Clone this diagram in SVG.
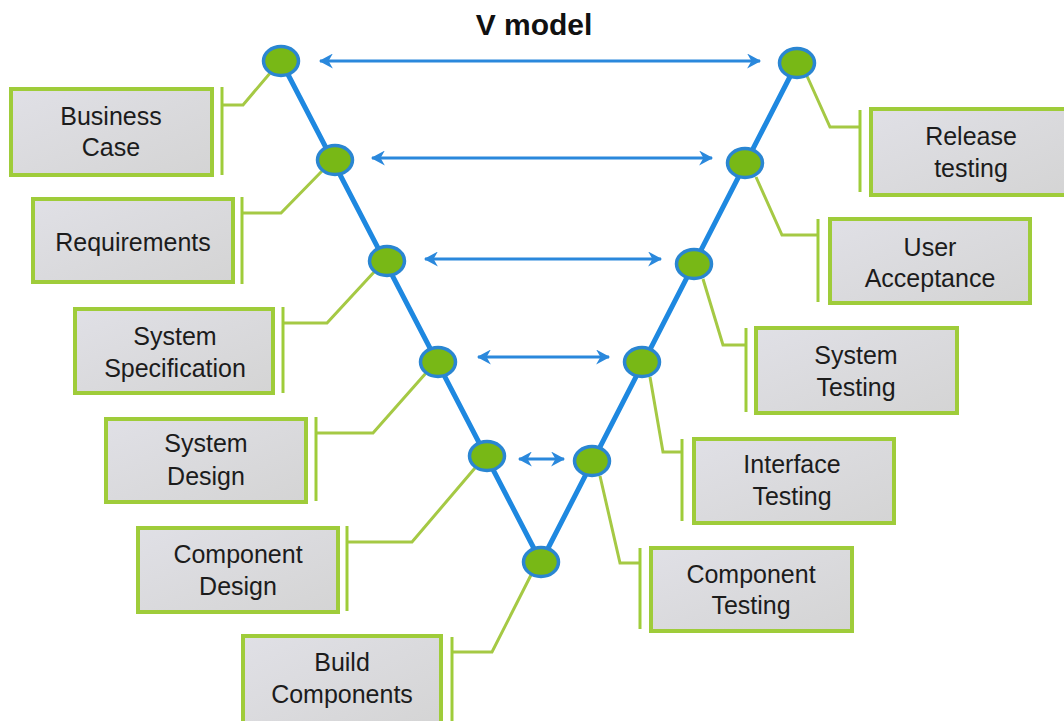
<svg xmlns="http://www.w3.org/2000/svg" width="1064" height="721" viewBox="0 0 1064 721">
  <defs>
    <marker id="head" viewBox="0 0 14 14" refX="12" refY="7" markerWidth="15" markerHeight="15" markerUnits="userSpaceOnUse" orient="auto-start-reverse">
      <path d="M0,0 L13,7 L0,14 L4,7 Z" fill="#2a88dc"/>
    </marker>
    <linearGradient id="boxfill" x1="0" y1="0" x2="1" y2="1">
      <stop offset="0" stop-color="#e0e0e6"/>
      <stop offset="1" stop-color="#d4d4d4"/>
    </linearGradient>
  </defs>
  <style>
    .box { fill: url(#boxfill); stroke: #9fcc3a; stroke-width: 4; }
    .bracket { fill: none; stroke: #9fcc3a; stroke-width: 3; }
    .lead { fill: none; stroke: #a5c944; stroke-width: 3; stroke-linejoin: miter; }
    .vee { fill: none; stroke: #1e88e0; stroke-width: 5; stroke-linejoin: round; }
    .span { stroke: #2a88dc; stroke-width: 3; marker-start: url(#head); marker-end: url(#head); }
    .node { fill: #78b816; stroke: #2a86d2; stroke-width: 3.5; }
    .lbl { font-family: "Liberation Sans", Arial, sans-serif; font-size: 25px; fill: #1c1c1c; text-anchor: middle; }
    .title { font-family: "Liberation Sans", Arial, sans-serif; font-size: 30px; font-weight: bold; fill: #111; text-anchor: middle; }
  </style>
  <rect width="1064" height="721" fill="#ffffff"/>

  <text class="title" x="534" y="35">V model</text>

  <!-- connectors: V line, leader lines, correspondence arrows -->
  <g id="connectors">
    <polyline class="vee" points="281,61 541,562 797,63"/>
    <!-- left leaders -->
    <polyline class="lead" points="222,105 243,105 271,72"/>
    <polyline class="lead" points="242,213 281,213 323,170"/>
    <polyline class="lead" points="283,323 327,323 375,271"/>
    <polyline class="lead" points="316,433 373,433 426,373"/>
    <polyline class="lead" points="347,542 412,542 475,468"/>
    <polyline class="lead" points="452,652 492,652 531,575"/>
    <!-- right leaders -->
    <polyline class="lead" points="860,127 830,127 807,76"/>
    <polyline class="lead" points="818,235 782,235 756,177"/>
    <polyline class="lead" points="746,345 723,345 703,279"/>
    <polyline class="lead" points="682,452 663,452 650,377"/>
    <polyline class="lead" points="640,563 620,563 600,476"/>
    <!-- left/right correspondence -->
    <line class="span" x1="320" y1="61" x2="760" y2="61"/>
    <line class="span" x1="372" y1="158" x2="712" y2="158"/>
    <line class="span" x1="425" y1="259" x2="661" y2="259"/>
    <line class="span" x1="478" y1="357" x2="609" y2="357"/>
    <line class="span" x1="519" y1="459" x2="564" y2="459"/>
  </g>

  <!-- V nodes -->
  <g id="n-l1"><ellipse class="node" cx="281" cy="61" rx="17.5" ry="14.5"/></g>
  <g id="n-l2"><ellipse class="node" cx="335" cy="160" rx="17.5" ry="14.5"/></g>
  <g id="n-l3"><ellipse class="node" cx="387" cy="261" rx="17.5" ry="14.5"/></g>
  <g id="n-l4"><ellipse class="node" cx="438" cy="362" rx="17.5" ry="14.5"/></g>
  <g id="n-l5"><ellipse class="node" cx="487" cy="456" rx="17.5" ry="14.5"/></g>
  <g id="n-bottom"><ellipse class="node" cx="541" cy="562" rx="17.5" ry="14.5"/></g>
  <g id="n-r5"><ellipse class="node" cx="592" cy="461" rx="17.5" ry="14.5"/></g>
  <g id="n-r4"><ellipse class="node" cx="642" cy="362" rx="17.5" ry="14.5"/></g>
  <g id="n-r3"><ellipse class="node" cx="694" cy="264" rx="17.5" ry="14.5"/></g>
  <g id="n-r2"><ellipse class="node" cx="745" cy="163" rx="17.5" ry="14.5"/></g>
  <g id="n-r1"><ellipse class="node" cx="797" cy="63" rx="17.5" ry="14.5"/></g>

  <!-- left-side boxes -->
  <g id="business-case">
    <rect class="box" x="11" y="89" width="201" height="86"/>
    <line class="bracket" x1="222" y1="87" x2="222" y2="175"/>
    <text class="lbl" x="111" y="125">Business</text>
    <text class="lbl" x="111" y="156">Case</text>
  </g>
  <g id="requirements">
    <rect class="box" x="33" y="199" width="200" height="83"/>
    <line class="bracket" x1="242" y1="197" x2="242" y2="284"/>
    <text class="lbl" x="133" y="251">Requirements</text>
  </g>
  <g id="system-specification">
    <rect class="box" x="75" y="309" width="198" height="84"/>
    <line class="bracket" x1="283" y1="307" x2="283" y2="393"/>
    <text class="lbl" x="175" y="345">System</text>
    <text class="lbl" x="175" y="377">Specification</text>
  </g>
  <g id="system-design">
    <rect class="box" x="106" y="419" width="200" height="83"/>
    <line class="bracket" x1="316" y1="417" x2="316" y2="501"/>
    <text class="lbl" x="206" y="452">System</text>
    <text class="lbl" x="206" y="485">Design</text>
  </g>
  <g id="component-design">
    <rect class="box" x="138" y="528" width="200" height="84"/>
    <line class="bracket" x1="347" y1="526" x2="347" y2="611"/>
    <text class="lbl" x="238" y="563">Component</text>
    <text class="lbl" x="238" y="595">Design</text>
  </g>
  <g id="build-components">
    <rect class="box" x="243" y="636" width="198" height="95"/>
    <line class="bracket" x1="452" y1="637" x2="452" y2="730"/>
    <text class="lbl" x="342" y="671">Build</text>
    <text class="lbl" x="342" y="703">Components</text>
  </g>

  <!-- right-side boxes -->
  <g id="release-testing">
    <rect class="box" x="871" y="109" width="200" height="86"/>
    <line class="bracket" x1="860" y1="110" x2="860" y2="192"/>
    <text class="lbl" x="971" y="145">Release</text>
    <text class="lbl" x="971" y="177">testing</text>
  </g>
  <g id="user-acceptance">
    <rect class="box" x="830" y="219" width="200" height="84"/>
    <line class="bracket" x1="818" y1="219" x2="818" y2="302"/>
    <text class="lbl" x="930" y="256">User</text>
    <text class="lbl" x="930" y="287">Acceptance</text>
  </g>
  <g id="system-testing">
    <rect class="box" x="756" y="328" width="201" height="85"/>
    <line class="bracket" x1="746" y1="328" x2="746" y2="412"/>
    <text class="lbl" x="856" y="364">System</text>
    <text class="lbl" x="856" y="396">Testing</text>
  </g>
  <g id="interface-testing">
    <rect class="box" x="694" y="439" width="200" height="84"/>
    <line class="bracket" x1="682" y1="439" x2="682" y2="521"/>
    <text class="lbl" x="792" y="473">Interface</text>
    <text class="lbl" x="792" y="505">Testing</text>
  </g>
  <g id="component-testing">
    <rect class="box" x="651" y="548" width="201" height="83"/>
    <line class="bracket" x1="640" y1="548" x2="640" y2="629"/>
    <text class="lbl" x="751" y="583">Component</text>
    <text class="lbl" x="751" y="614">Testing</text>
  </g>
</svg>
